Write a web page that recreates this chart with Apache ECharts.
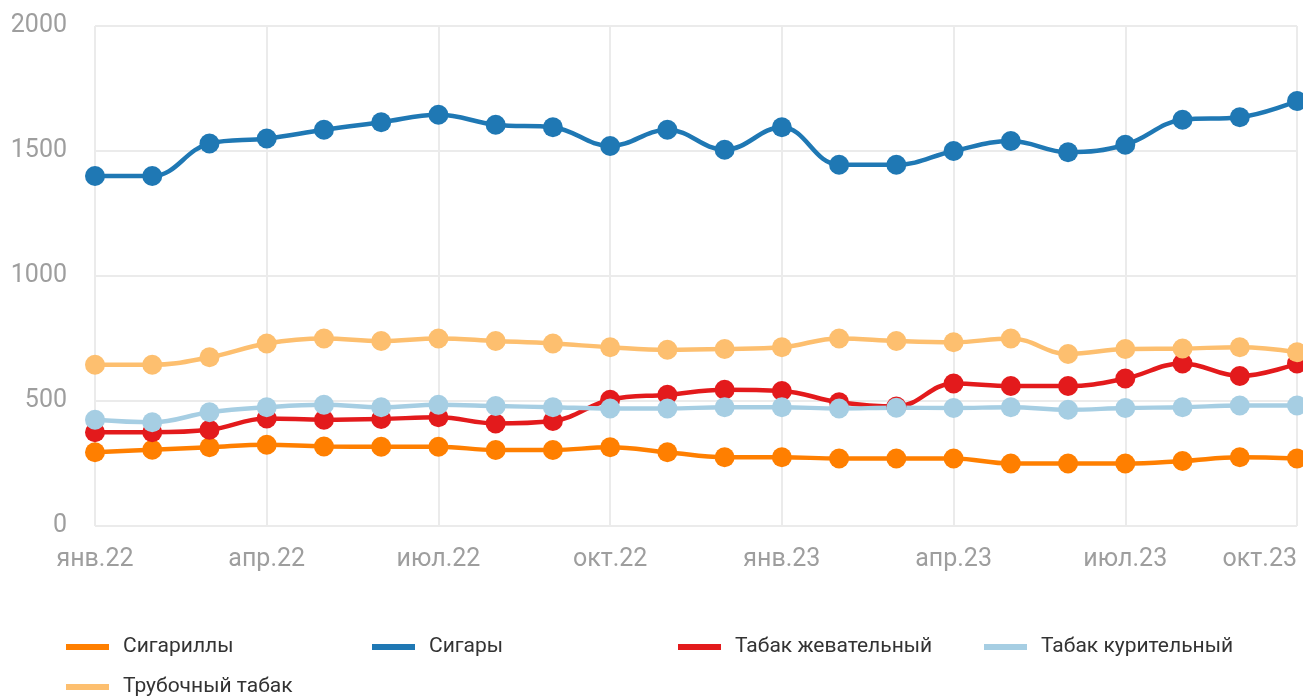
<!DOCTYPE html>
<html>
<head>
<meta charset="utf-8">
<script src="https://cdn.jsdelivr.net/npm/echarts@6/dist/echarts.min.js"></script>
<style>
  html, body { margin: 0; padding: 0; background: #fff; }
  #chart { width: 1303px; height: 697px; }
</style>
</head>
<body>
<div id="chart"></div>
<script>
// месяцы
const months = [
  "янв.22", "фев.22", "мар.22", "апр.22", "май.22", "июн.22", "июл.22", "авг.22",
  "сен.22", "окт.22", "ноя.22", "дек.22", "янв.23", "фев.23", "мар.23", "апр.23",
  "май.23", "июн.23", "июл.23", "авг.23", "сен.23", "окт.23"
];

const cigarillos = [295, 305, 315, 325, 318, 317, 317, 304, 304, 315, 295, 275, 275, 270, 270, 270, 250, 250, 250, 260, 275, 270];
const cigars = [1400, 1400, 1530, 1550, 1585, 1615, 1645, 1605, 1595, 1520, 1585, 1505, 1595, 1445, 1445, 1500, 1540, 1495, 1525, 1625, 1635, 1700];
const chewing = [375, 375, 385, 430, 425, 428, 435, 410, 420, 505, 525, 545, 540, 495, 478, 570, 560, 560, 590, 650, 600, 650];
const smoking = [425, 415, 455, 475, 485, 475, 485, 480, 475, 470, 470, 475, 475, 470, 473, 472, 475, 465, 472, 475, 482, 482];
const pipe = [645, 645, 675, 730, 750, 740, 750, 740, 730, 715, 705, 708, 715, 750, 740, 735, 750, 688, 708, 710, 715, 695];

const seriesNames = ["Сигариллы", "Сигары", "Табак жевательный", "Табак курительный", "Трубочный табак"];
const seriesData = [cigarillos, cigars, chewing, smoking, pipe];
const colors = ["#ff7f00", "#1f78b4", "#e31a1c", "#a6cee3", "#fdbf6f"];

const chart = echarts.init(document.getElementById("chart"));

const option = {
  animation: false,
  color: colors,
  textStyle: { fontFamily: "Roboto" },
  grid: {
    left: 95,
    right: 6,
    top: 26,
    bottom: 171
  },
  xAxis: {
    type: "category",
    data: months,
    boundaryGap: false,
    axisLine: { show: false },
    axisTick: { show: false },
    axisLabel: {
      interval: 2,
      color: "#9e9e9e",
      fontSize: 25,
      margin: 21,
      alignMaxLabel: "right"
    },
    splitLine: {
      show: true,
      interval: 2,
      lineStyle: { color: "#ebebeb", width: 2 }
    }
  },
  yAxis: {
    type: "value",
    min: 0,
    max: 2000,
    interval: 500,
    axisLine: { show: false },
    axisTick: { show: false },
    axisLabel: {
      color: "#9e9e9e",
      fontSize: 25,
      margin: 28,
      formatter: (v) => String(v)
    },
    splitLine: {
      lineStyle: { color: "#ebebeb", width: 2 }
    }
  },
  legend: {
    left: 66,
    top: 632,
    width: 1237,
    padding: 0,
    itemWidth: 43,
    itemHeight: 6,
    itemGap: 10,
    icon: "rect",
    textStyle: {
      color: "#333",
      fontSize: 21,
      width: 239,
      lineHeight: 30,
      padding: [0, 0, 0, 9]
    },
    data: seriesNames
  },
  series: seriesNames.map((name, i) => ({
    name: name,
    type: "line",
    data: seriesData[i],
    smooth: 0.4,
    symbol: "circle",
    symbolSize: 20,
    lineStyle: { width: 4.5 }
  }))
};

chart.setOption(option);
</script>
</body>
</html>
